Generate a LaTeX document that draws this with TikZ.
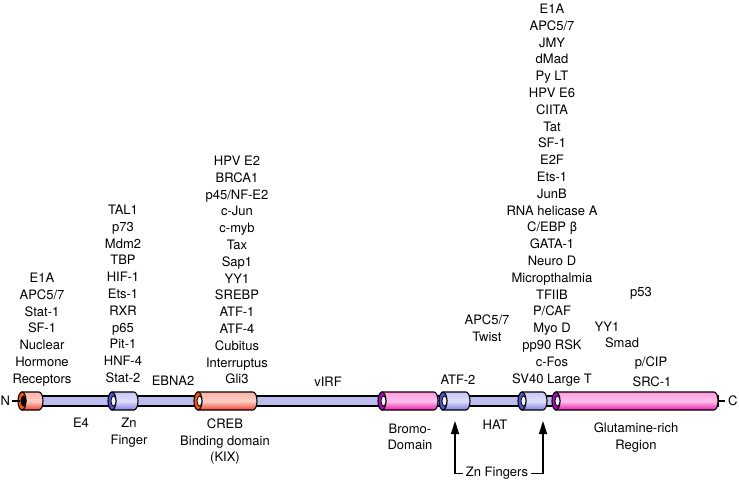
\documentclass[tikz,border=0pt]{standalone}
\usepackage{fontspec}
\setmainfont{TeX Gyre Heros}
\usetikzlibrary{arrows.meta}
\definecolor{barlight}{HTML}{F6F6FF}
\definecolor{bardark}{HTML}{BCBCEE}
\definecolor{redlight}{HTML}{FFB0A2}
\definecolor{reddark}{HTML}{F04434}
\definecolor{redring}{HTML}{FF5500}
\definecolor{bluelight}{HTML}{C8C8F8}
\definecolor{bluedark}{HTML}{8080E0}
\definecolor{bluering}{HTML}{5050D4}
\definecolor{pinklight}{HTML}{FF9ADF}
\definecolor{pinkdark}{HTML}{EC1EAC}
\definecolor{pinkring}{HTML}{B000B8}
\pgfmathsetmacro{\pitch}{16.8}
\newcommand{\drawdomain}[6]{%
    \shade[top color=#3, bottom color=#4, middle color=#3!60!white, draw=black, line width=1.1pt]
        (#1,392) -- (#2-4,392) arc[start angle=-90, end angle=90, x radius=4, y radius=9] -- (#1,410) -- cycle;
    \filldraw[fill=#5, line width=1.1pt] (#1,401) ellipse[x radius=4, y radius=9];
    \filldraw[fill=#6, line width=0.8pt] (#1+1.5,401) ellipse[x radius=2.5, y radius=5];
}
\tikzset{
    lbl/.style={font=\fontsize{13}{15}\selectfont, anchor=base, inner sep=0pt},
    stub/.style={line width=1.1pt},
    znarrow/.style={line width=1.3pt, -{Triangle[width=8pt,length=13pt]}}
}

\begin{document}
\begin{tikzpicture}[x=1pt, y=-1pt]
            \useasboundingbox (0,0) rectangle (739,481);
            \shade[top color=bardark, middle color=barlight, bottom color=bardark, draw=black, line width=1.1pt]
                (22,396) rectangle (718,406);
            \drawdomain{22}{43}{redlight}{reddark}{redring}{black}
            \drawdomain{112}{138}{bluelight}{bluedark}{bluering}{barlight}
            \drawdomain{198}{257}{redlight}{reddark}{redring}{barlight}
            \drawdomain{382}{438}{pinklight}{pinkdark}{pinkring}{barlight}
            \drawdomain{443}{470}{bluelight}{bluedark}{bluering}{barlight}
            \drawdomain{522}{547}{bluelight}{bluedark}{bluering}{barlight}
            \drawdomain{556}{718}{pinklight}{pinkdark}{pinkring}{barlight}
            \node[lbl, anchor=west] (nterm) at (0.5,401) {N};
            \node[lbl, anchor=west] (cterm) at (728,401) {C};
            \draw[stub] ([xshift=2pt]nterm.east) -- ++(8,0);
            \draw[stub] ([xshift=-9pt]cterm.west) -- ++(6,0);
            \foreach \t [count=\i from 0] in {E1A,APC5/7,Stat-1,SF-1,Nuclear,Hormone,Receptors}{
                \node[lbl] (nhr\i) at (42,282.5+\i*\pitch) {\t};
            }
            \foreach \t [count=\i from 0] in {TAL1,p73,Mdm2,TBP,HIF-1,Ets-1,RXR,p65,Pit-1,HNF-4,Stat-2}{
                \node[lbl] (zna\i) at (123,214.5+\i*\pitch) {\t};
            }
            \foreach \t [count=\i from 0] in {HPV E2,BRCA1,p45/NF-E2,c-Jun,c-myb,Tax,Sap1,YY1,SREBP,ATF-1,ATF-4,Cubitus,Interruptus,Gli3}{
                \node[lbl] (kix\i) at (237,165.5+\i*\pitch) {\t};
            }
            \foreach \t [count=\i from 0] in {E1A,APC5/7,JMY,dMad,Py LT,HPV E6,CIITA,Tat,SF-1,E2F,Ets-1,JunB,RNA helicase A,C/EBP β,GATA-1,Neuro D,Micropthalmia,TFIIB,P/CAF,Myo D,pp90 RSK,c-Fos,SV40 Large T}{
                \node[lbl] (hat\i) at (552,13.5+\i*\pitch) {\t};
            }
            \node[lbl] (ebna) at (173,385.5) {EBNA2};
            \node[lbl] (virf) at (328,386.5) {vIRF};
            \node[lbl] (atf) at (458,384.5) {ATF-2};
            \node[lbl] (apc) at (487,324.5) {APC5/7};
            \node[lbl] (twist) at (487,341.5) {Twist};
            \node[lbl] (p53) at (641,296.5) {p53};
            \node[lbl] (yy1) at (607,331.5) {YY1};
            \node[lbl] (smad) at (622,347.5) {Smad};
            \node[lbl] (pcip) at (651,366.5) {p/CIP};
            \node[lbl] (src) at (652,386.5) {SRC-1};
            \node[lbl] (e4) at (81,427.5) {E4};
            \node[lbl] (zn) at (129,427.5) {Zn};
            \node[lbl] (finger) at (129,444.5) {Finger};
            \node[lbl] (creb) at (225,428.5) {CREB};
            \node[lbl] (binding) at (225,445.5) {Binding domain};
            \node[lbl] (kixlbl) at (225,461.5) {(KIX)};
            \node[lbl] (bromo) at (410,433.5) {Bromo-};
            \node[lbl] (domain) at (410,449.5) {Domain};
            \node[lbl] (hatlbl) at (495,429.5) {HAT};
            \node[lbl] (glut) at (636,432.5) {Glutamine-rich};
            \node[lbl] (region) at (636,449.5) {Region};
            \node[lbl] (zf) at (497,476.5) {Zn Fingers};
            \coordinate (zfa) at (455,421);
            \coordinate (zfb) at (543,421);
            \draw[znarrow] ([xshift=-3pt]zf.west) -| (zfa);
            \draw[znarrow] ([xshift=3pt]zf.east) -| (zfb);
        \end{tikzpicture}
\end{document}
